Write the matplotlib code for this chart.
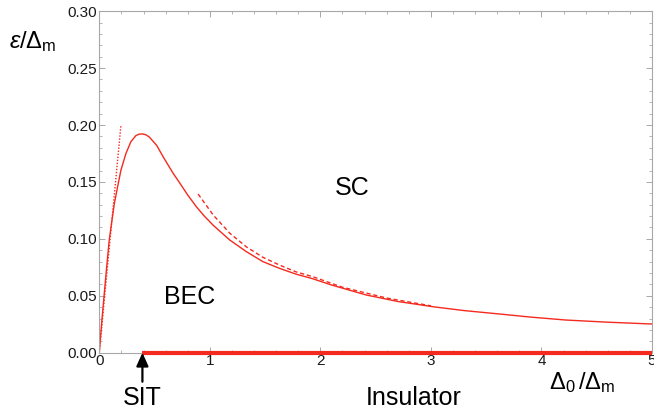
import matplotlib
matplotlib.use("Agg")
import matplotlib.pyplot as plt
from matplotlib.ticker import MultipleLocator, FormatStrFormatter

plt.rcParams['font.family'] = ['Liberation Sans', 'DejaVu Sans']
plt.rcParams['mathtext.fontset'] = 'custom'
plt.rcParams['mathtext.rm'] = 'Liberation Sans'
plt.rcParams['mathtext.it'] = 'Liberation Sans:italic'
plt.rcParams['mathtext.bf'] = 'Liberation Sans:bold'

# ---- data ----
curve_x = [0.0, 0.006, 0.024, 0.045, 0.067, 0.090, 0.115, 0.136, 0.166, 0.196,
           0.241, 0.286, 0.331, 0.360, 0.389, 0.420, 0.452, 0.520, 0.578,
           0.668, 0.729, 0.800, 0.880, 0.950, 1.030, 1.180, 1.330, 1.480,
           1.630, 1.780, 1.930, 2.100, 2.415, 2.700, 3.017, 3.300, 3.620,
           3.900, 4.220, 4.600, 5.000]
curve_y = [0.0, 0.008, 0.029, 0.052, 0.0756, 0.099, 0.1166, 0.131, 0.146,
           0.1605, 0.175, 0.1854, 0.1907, 0.1920, 0.1922, 0.1915, 0.1895,
           0.182, 0.172, 0.1576, 0.1489, 0.1385, 0.128, 0.1200, 0.112, 0.099,
           0.0888, 0.080, 0.0741, 0.069, 0.065, 0.0595, 0.0507, 0.045, 0.0404,
           0.037, 0.034, 0.0313, 0.0287, 0.0268, 0.0252]

dotted_x = [0.0, 0.196]
dotted_y = [0.0, 0.200]

dashed_x = [0.894, 1.03, 1.18, 1.33, 1.48, 1.63, 1.78, 1.93, 2.2, 2.6, 3.0]
dashed_y = [0.1394, 0.121, 0.105, 0.093, 0.0838, 0.077, 0.071, 0.0668,
            0.0575, 0.048, 0.0412]

sit_x = 0.39
insulator_x = [0.39, 5.0]
insulator_y = [0.0, 0.0]

xticks = [0, 1, 2, 3, 4, 5]
yticks = [0.00, 0.05, 0.10, 0.15, 0.20, 0.25, 0.30]

# ---- figure ----
W, H = 654, 416
fig = plt.figure(figsize=(W / 100, H / 100), dpi=100)
ax = fig.add_axes([99.3 / W, 1 - 352.7 / H, (652 - 99.3) / W, (352.7 - 11.2) / H])

red = '#f42a1e'
ax.plot(curve_x, curve_y, color=red, lw=1.0)
ax.plot(dotted_x, dotted_y, color=red, lw=1.0, linestyle=(0, (1, 1.2)))
ax.plot(dashed_x, dashed_y, color=red, lw=1.0, linestyle=(0, (3, 2)))
ax.plot(insulator_x, insulator_y, color=red, lw=3.0, solid_capstyle='butt',
        clip_on=False, zorder=5)

ax.set_xlim(0, 5)
ax.set_ylim(0, 0.30)
ax.set_xticks(xticks)
ax.set_yticks(yticks)
ax.xaxis.set_minor_locator(MultipleLocator(0.2))
ax.yaxis.set_minor_locator(MultipleLocator(0.01))
ax.yaxis.set_major_formatter(FormatStrFormatter('%.2f'))

grey = '#a8a8a8'
for s in ax.spines.values():
    s.set_color(grey)
    s.set_linewidth(0.8)
ax.tick_params(which='both', direction='in', top=True, right=True, color=grey,
               labelsize=11, labelcolor='#1a1a1a', pad=2)
ax.tick_params(which='major', length=4, width=0.7)
ax.tick_params(which='minor', length=2.2, width=0.6)
ax.tick_params(axis='x', pad=1)

# arrow at SIT
ax.annotate('', xy=(sit_x, 0), xytext=(0, -29), textcoords='offset pixels',
            xycoords='data',
            arrowprops=dict(arrowstyle='-|>,head_length=0.8,head_width=0.36',
                            color='black', lw=1.6, shrinkA=0, shrinkB=0),
            annotation_clip=False, zorder=6)

def ftext(px, py, s, va='center', **kw):
    fig.text(px / W, 1 - py / H, s, ha='center', va=va, **kw)

ftext(352, 188, 'SC', fontsize=18)
ftext(190, 297, 'BEC', fontsize=18)
ftext(142, 405, 'SIT', va='baseline', fontsize=18)
ftext(414, 405, 'Insulator', va='baseline', fontsize=18)
ftext(582, 383, r'$\Delta_0\,/\Delta_\mathrm{m}$', fontsize=17)
ftext(33, 42, r'$\mathit{ε}/\Delta_\mathrm{m}$', fontsize=17)

fig.savefig('out.png', dpi=100)
